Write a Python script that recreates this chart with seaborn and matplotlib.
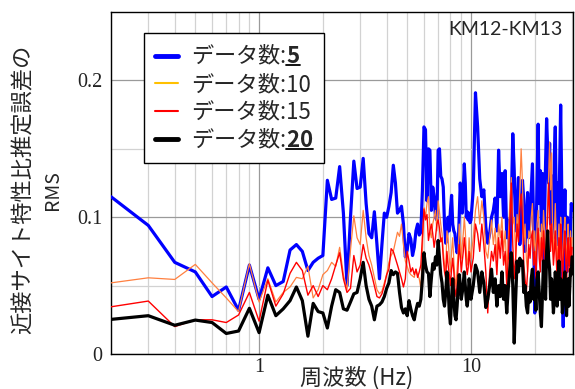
import numpy as np
import pandas as pd
import matplotlib
matplotlib.use("Agg")
import matplotlib.pyplot as plt
import seaborn as sns
from matplotlib import font_manager
from matplotlib.ticker import FixedLocator, NullFormatter, LogLocator
from matplotlib.lines import Line2D

# ---------------- data ----------------
freq_low = [round(0.2 + 0.1 * i, 2) for i in range(99)]          # 0.2 .. 10.0 Hz
freq_high = [round(10.25 + 0.25 * i, 2) for i in range(80)]      # 10.25 .. 30 Hz
freq = freq_low + freq_high

rms_n5 = [
    .115, .094, .067, .060, .042, .049, .032, .065, .040,
    .063, .050, .053, .076, .080, .075, .061, .067, .070, .072,
    .127, .113, .114, .137, .103, .050, .100, .141, .121, .122,
    .143, .110, .088, .085, .104, .080, .055, .080, .103, .100,
    .108, .118, .138, .125, .103, .105, .108, .095, .071, .076,
    .088, .084, .072, .078, .090, .095, .087, .089, .120, .166,
    .164, .112, .150, .149, .105, .122, .115, .100, .098, .149,
    .150, .130, .128, .122, .095, .081, .088, .100, .090, .105,
    .116, .095, .090, .088, .080, .074, .078, .100, .125, .110,
    .103, .120, .139, .125, .100, .104, .098, .103, .096, .098,
    # 10.25 .. 30
    .120, .191, .166, .128, .115, .120, .093, .081, .088, .100,
    .105, .114, .090, .149, .115, .132, .100, .134, .085, .098,
    .070, .110, .161, .134, .090, .105, .129, .080, .095, .127,
    .112, .075, .095, .118, .085, .100, .120, .139, .095, .030,
    .080, .125, .168, .110, .134, .090, .132, .060, .100, .140,
    .172, .150, .125, .154, .095, .110, .130, .085, .145, .166,
    .110, .125, .080, .100, .140, .182, .134, .070, .020, .095,
    .120, .085, .060, .100, .090, .072, .065, .095, .110, .105,
]

rms_n10 = [
    .052, .0557, .0545, .0655, .052, .041, .031, .066, .038,
    .055, .038, .045, .049, .056, .055, .064, .041, .047, .058,
    .061, .067, .064, .078, .058, .047, .076, .101, .085, .080,
    .105, .085, .072, .065, .056, .047, .044, .046, .052, .058,
    .067, .072, .075, .082, .089, .086, .095, .080, .068, .064,
    .060, .058, .057, .056, .062, .058, .055, .048, .075, .107,
    .100, .110, .115, .090, .085, .095, .100, .105, .090, .112,
    .104, .095, .088, .075, .065, .060, .090, .085, .070, .060,
    .075, .085, .068, .055, .050, .062, .075, .095, .085, .070,
    .080, .088, .100, .090, .075, .065, .070, .085, .075, .070,
    # 10.25 .. 30
    .085, .105, .115, .095, .112, .100, .075, .070, .085, .098,
    .080, .092, .070, .095, .085, .100, .075, .090, .060, .085,
    .110, .129, .095, .100, .070, .102, .090, .120, .150, .125,
    .080, .095, .070, .060, .090, .085, .100, .110, .075, .090,
    .065, .095, .105, .085, .070, .095, .080, .105, .090, .075,
    .095, .110, .130, .155, .120, .147, .095, .075, .090, .110,
    .085, .060, .080, .095, .070, .100, .088, .060, .075, .090,
    .100, .080, .065, .085, .095, .070, .080, .090, .075, .085,
]

rms_n15 = [
    .0345, .0387, .020, .025, .025, .023, .0285, .045, .024,
    .054, .035, .044, .059, .067, .061, .043, .050, .042, .050,
    .047, .055, .065, .074, .055, .045, .048, .072, .060, .065,
    .080, .070, .065, .058, .050, .042, .041, .044, .050, .058,
    .062, .077, .075, .070, .065, .060, .055, .049, .055, .075,
    .068, .060, .063, .058, .062, .056, .060, .065, .085, .106,
    .098, .102, .083, .090, .095, .088, .078, .085, .095, .098,
    .092, .082, .085, .070, .060, .055, .075, .065, .058, .050,
    .062, .070, .060, .048, .042, .050, .065, .080, .072, .060,
    .068, .075, .085, .078, .065, .058, .063, .075, .068, .060,
    # 10.25 .. 30
    .070, .095, .088, .075, .095, .080, .060, .030, .060, .075,
    .068, .080, .058, .085, .070, .090, .065, .075, .050, .070,
    .095, .125, .080, .055, .070, .095, .082, .105, .117, .100,
    .065, .055, .045, .060, .080, .070, .085, .090, .065, .075,
    .055, .080, .092, .070, .060, .085, .068, .090, .075, .060,
    .085, .100, .125, .105, .075, .095, .080, .065, .075, .090,
    .070, .055, .070, .085, .060, .095, .080, .055, .065, .080,
    .090, .070, .050, .075, .085, .060, .072, .085, .065, .078,
]

rms_n20 = [
    .0253, .028, .021, .0248, .023, .015, .0168, .0334, .0156,
    .043, .028, .033, .039, .049, .039, .013, .037, .031, .030,
    .019, .035, .047, .045, .033, .032, .038, .044, .045, .055,
    .067, .050, .040, .035, .025, .035, .036, .038, .042, .048,
    .052, .061, .058, .060, .059, .045, .034, .030, .033, .028,
    .039, .033, .028, .025, .032, .037, .035, .040, .055, .074,
    .065, .060, .059, .042, .055, .066, .062, .071, .065, .083,
    .070, .058, .052, .040, .035, .045, .060, .050, .030, .022,
    .040, .055, .042, .028, .025, .035, .048, .058, .050, .040,
    .045, .052, .060, .050, .040, .035, .042, .055, .048, .040,
    # 10.25 .. 30
    .050, .065, .060, .045, .060, .052, .034, .040, .050, .062,
    .045, .055, .035, .050, .042, .060, .040, .050, .030, .048,
    .062, .074, .050, .008, .040, .068, .060, .070, .065, .068,
    .045, .050, .035, .030, .045, .038, .055, .062, .040, .048,
    .032, .055, .060, .045, .030, .020, .045, .068, .050, .040,
    .075, .090, .070, .062, .040, .055, .045, .030, .042, .060,
    .048, .035, .045, .068, .040, .055, .050, .030, .040, .052,
    .060, .042, .028, .045, .055, .035, .048, .062, .058, .071,
]

series_labels = ["データ数:$\\mathbf{5}$", "データ数:10", "データ数:15",
                 "データ数:$\\mathbf{20}$"]
bold_counts = {0: "5", 3: "20"}
y_ticks = [0, 0.1, 0.2]
y_ticklabels = ["0", "0.1", "0.2"]
x_ticks = [1, 10]
x_ticklabels = ["1", "10"]

# ---------------- style ----------------
sns.set_theme(style="white")
plt.rcParams["font.family"] = ["Noto Sans CJK JP", "DejaVu Sans"]
plt.rcParams["mathtext.fontset"] = "custom"
plt.rcParams["mathtext.rm"] = "Noto Sans CJK JP"
plt.rcParams["mathtext.bf"] = "Noto Sans CJK JP:bold"

serif_path = font_manager.findfont(
    font_manager.FontProperties(family="Liberation Serif"))
tick_fp = font_manager.FontProperties(fname=serif_path, size=14.5)

fig = plt.figure(figsize=(5.75, 3.89), dpi=100)
fig.patch.set_facecolor("white")
ax = fig.add_axes([0.193, 0.090, 0.8035, 0.879])
ax.set_facecolor("white")

df = pd.DataFrame({"freq": freq, "n5": rms_n5, "n10": rms_n10,
                   "n15": rms_n15, "n20": rms_n20})

styles = [("n5", "#0000FF", 2.3), ("n10", "#FF8040", 0.9),
          ("n15", "#FF0000", 1.0), ("n20", "#000000", 2.3)]
for (col, color, lw), lab in zip(styles, series_labels):
    sns.lineplot(data=df, x="freq", y=col, ax=ax, color=color,
                 linewidth=lw, label=lab, zorder=3)

ax.set_xscale("log")
ax.set_xlim(0.2, 30.3)
ax.set_ylim(0, 0.25)
ax.set_xlabel("")
ax.set_ylabel("")

ax.tick_params(axis="both", which="both", length=0, labelcolor="#222222")
ax.tick_params(axis="x", pad=3)
ax.tick_params(axis="y", pad=6)

ax.xaxis.set_major_locator(FixedLocator(x_ticks))
ax.xaxis.set_minor_locator(LogLocator(base=10, subs=np.arange(2, 10)))
ax.xaxis.set_minor_formatter(NullFormatter())
ax.yaxis.set_major_locator(FixedLocator(y_ticks))
ax.yaxis.set_minor_locator(FixedLocator([0.05, 0.15]))
ax.set_xticklabels(x_ticklabels, fontproperties=tick_fp)
ax.set_yticklabels(y_ticklabels, fontproperties=tick_fp)

ax.grid(True, which="major", color="#9a9a9a", linewidth=0.9, zorder=0)
ax.grid(True, which="minor", color="#d2d2d2", linewidth=0.9, zorder=0)
ax.set_axisbelow(True)

for sp in ax.spines.values():
    sp.set_color("black")
    sp.set_linewidth(1.0)
    sp.set_visible(True)

# legend
leg = ax.legend(loc="upper left", bbox_to_anchor=(0.072, 0.9386),
                fontsize=16, handlelength=1.0, handletextpad=0.6,
                labelspacing=0.2, borderpad=0.5, borderaxespad=0,
                frameon=True, fancybox=False, framealpha=1)
leg.get_frame().set_edgecolor("black")
leg.get_frame().set_linewidth(1.0)
for ln, lw in zip(leg.get_lines(), [3.5, 1.5, 1.5, 3.5]):
    ln.set_linewidth(lw)
leg.get_lines()[1].set_color("#FFC000")
leg.set_zorder(10)

# labels
fig.text(0.040, 0.512, "近接サイト特性比推定誤差の", rotation=90,
         fontsize=16, ha="center", va="center")
fig.text(0.092, 0.511, "RMS", rotation=90, fontsize=14,
         ha="center", va="center")
fig.text(0.620, 0.030, "周波数 (Hz)", fontsize=16, ha="center", va="center")
fig.text(0.979, 0.9254, "KM12-KM13", fontsize=14, ha="right",
         va="center", family="Lato", zorder=11)

fig.canvas.draw()
for lab in ax.get_xticklabels() + ax.get_yticklabels():
    lab.set_fontproperties(tick_fp)
    lab.set_color("#222222")

# underline the bold counts 5 and 20 in the legend
renderer = fig.canvas.get_renderer()
inv = fig.transFigure.inverted()
texts = leg.get_texts()
for idx, digits in bold_counts.items():
    t = texts[idx]
    bb = t.get_window_extent(renderer)
    tmp = fig.text(0, 0, "$\\mathbf{" + digits + "}$", fontsize=16)
    w = tmp.get_window_extent(renderer).width
    tmp.remove()
    y = bb.y0 + 3
    (x0, y0) = inv.transform((bb.x1 - w, y))
    (x1, _) = inv.transform((bb.x1, y))
    fig.add_artist(Line2D([x0, x1], [y0, y0], transform=fig.transFigure,
                          color="black", linewidth=1.3, zorder=12))

fig.savefig("out.png", dpi=100, facecolor="white")
